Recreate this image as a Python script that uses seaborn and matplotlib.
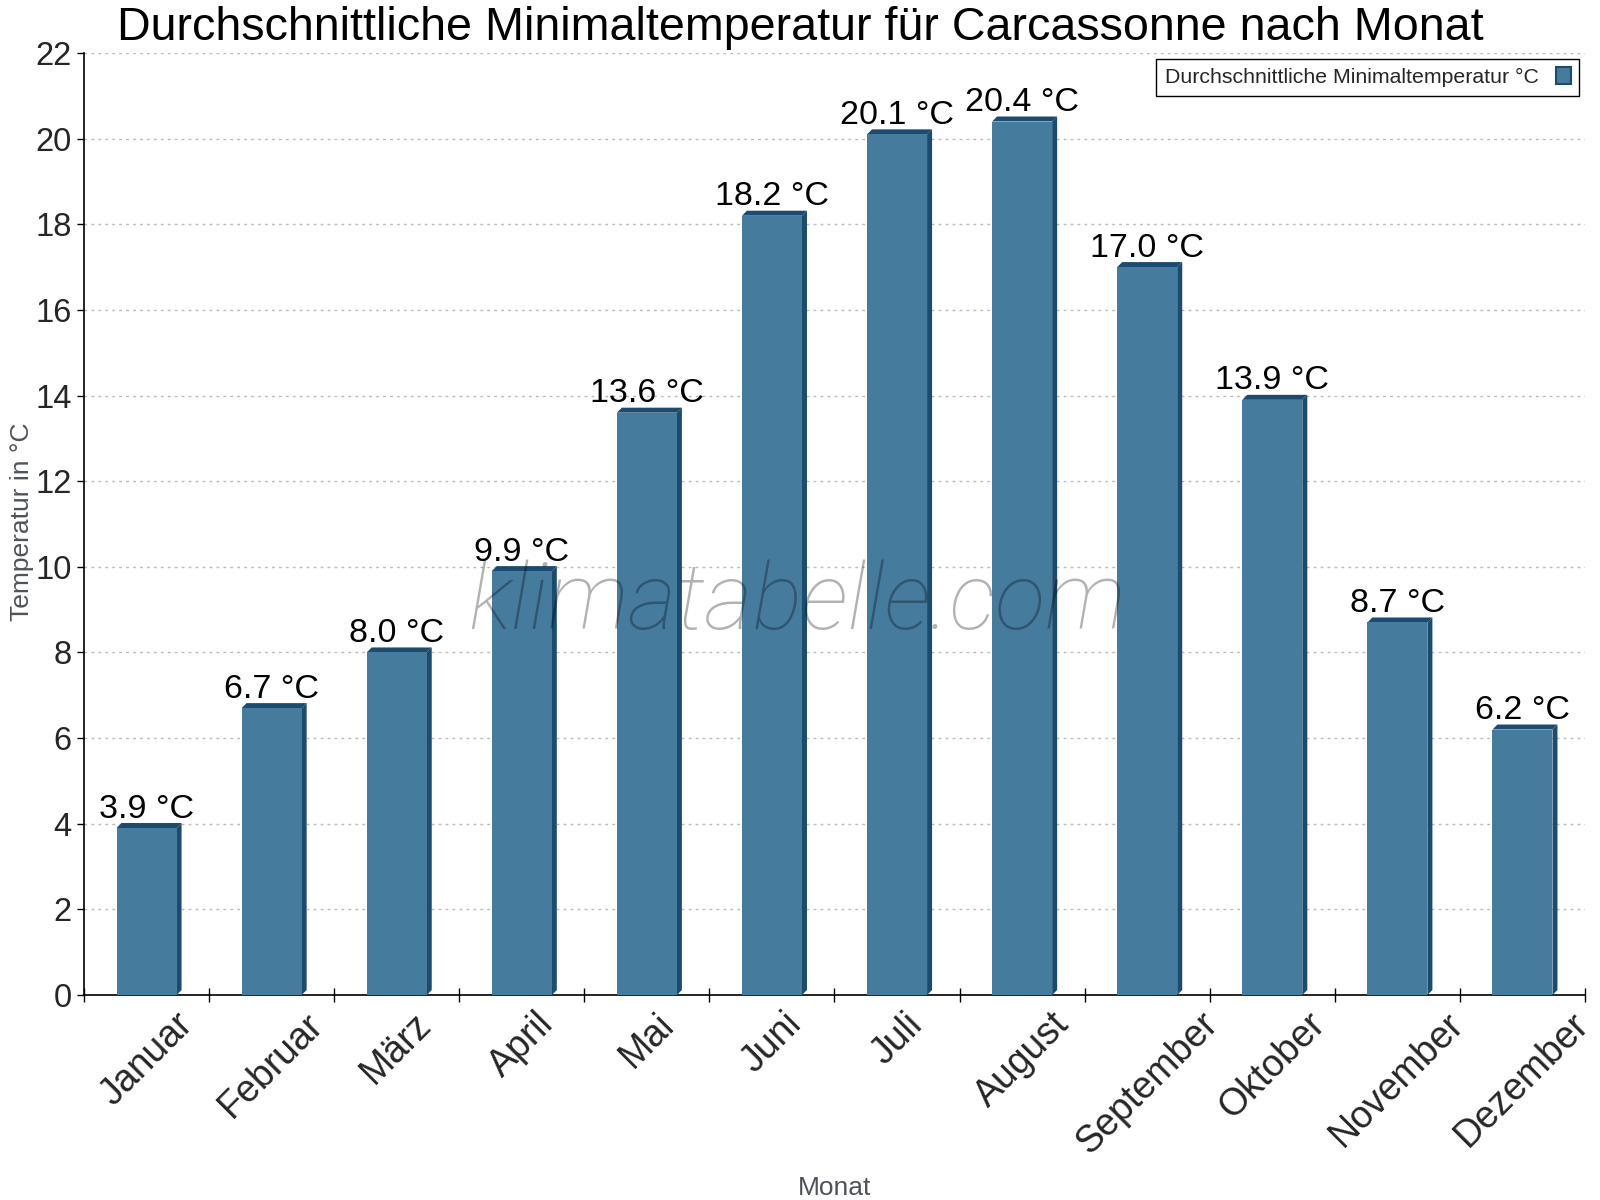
import numpy as np
import pandas as pd
import matplotlib
matplotlib.use("Agg")
import matplotlib.pyplot as plt
import seaborn as sns
from matplotlib.patches import Polygon
from matplotlib.ticker import FixedLocator, MultipleLocator

months = ["Januar", "Februar", "März", "April", "Mai", "Juni", "Juli",
          "August", "September", "Oktober", "November", "Dezember"]
temps = [3.9, 6.7, 8.0, 9.9, 13.6, 18.2, 20.1, 20.4, 17.0, 13.9, 8.7, 6.2]
series_label = "Durchschnittliche Minimaltemperatur °C"
title = "Durchschnittliche Minimaltemperatur für Carcassonne nach Monat"
ylabel = "Temperatur in °C"
xlabel = "Monat"
watermark = "klimatabelle.com"

FRONT = "#457b9d"
DARK = "#1b4b6e"

sns.set_style("white")
plt.rcParams["font.family"] = ["Liberation Sans", "DejaVu Sans"]

W, H = 1600, 1200
fig = plt.figure(figsize=(16, 12), dpi=100)
ax = fig.add_axes([84 / W, 1 - 995 / H, (1585 - 84) / W, (995 - 53) / H])

df = pd.DataFrame({"Monat": months, "Temp": temps})
sns.barplot(data=df, x="Monat", y="Temp", color=FRONT, saturation=1,
            width=0.48, ax=ax, label=series_label, zorder=3, edgecolor="none",
            linewidth=0)

ax.set_xlim(-0.5, len(months) - 0.5)
ax.set_ylim(0, 22)

# 3D effect: top and side faces
d = 5
bars = list(ax.containers[0])
for p in bars:
    x0, w, h = p.get_x(), p.get_width(), p.get_height()
    pts = np.array([[x0, h], [x0 + w, h], [x0 + w, 0]])
    disp = ax.transData.transform(pts) + np.array([d, d])
    back = ax.transData.inverted().transform(disp)
    top = Polygon([[x0, h], [x0 + w, h], back[1], back[0]], closed=True,
                  facecolor=DARK, edgecolor="none", zorder=2.9, clip_on=False)
    side = Polygon([[x0 + w, 0], [x0 + w, h], back[1], back[2]], closed=True,
                   facecolor=DARK, edgecolor="none", zorder=2.9, clip_on=False)
    ax.add_patch(top)
    ax.add_patch(side)

ax.bar_label(ax.containers[0], labels=[f"{v:.1f} °C" for v in temps],
             padding=2.5, fontsize=24.5, color="black", zorder=6)

# axes styling
for s in ["top", "right"]:
    ax.spines[s].set_visible(False)
for s in ["left", "bottom"]:
    ax.spines[s].set_color("black")
    ax.spines[s].set_linewidth(1.2)

ax.yaxis.set_major_locator(MultipleLocator(2))
ax.tick_params(axis="y", which="major", direction="out", length=5, width=1,
               labelsize=23.5, pad=4, color="black", left=True)
ax.tick_params(axis="x", which="major", length=0, labelsize=27, pad=8)
ax.xaxis.set_minor_locator(FixedLocator(np.arange(-0.5, len(months), 1.0)))
ax.tick_params(axis="x", which="minor", direction="inout", length=10,
               width=1, color="black", bottom=True)
plt.setp(ax.get_xticklabels(), rotation=45, ha="center", va="top")

ax.yaxis.grid(True, linestyle=(0, (2, 3)), color="#bbbbbb", linewidth=1,
              zorder=0)
ax.xaxis.grid(False)
ax.set_axisbelow(True)
ax.set_xlabel("")
ax.set_ylabel("")

fig.text(0.5, 1 - 40 / H, title, ha="center", va="baseline", fontsize=33.6,
         color="black")
fig.text(22 / W, 1 - 522 / H, ylabel, rotation=90, ha="center", va="center",
         fontsize=19, color="#4d5359")
fig.text(834.5 / W, 1 - 1195 / H, xlabel, ha="center", va="baseline",
         fontsize=19, color="#4d5359")

ax.text(0.475, 0.415, watermark, transform=ax.transAxes, ha="center",
        va="center", fontsize=67, family=["Roboto", "DejaVu Sans"],
        style="italic", weight="light", color="black", alpha=0.3, zorder=7)

leg = ax.legend(loc="upper right", bbox_to_anchor=(1579 / W, 1 - 59 / H),
                bbox_transform=fig.transFigure, borderaxespad=0,
                frameon=True, fancybox=False, shadow=False, fontsize=15.3,
                markerfirst=False, handlelength=0.7, handleheight=0.85,
                handletextpad=0.8, borderpad=0.4)
leg.get_frame().set_edgecolor("black")
leg.get_frame().set_linewidth(1)
leg.get_frame().set_alpha(1)
for hdl in leg.legend_handles:
    hdl.set_edgecolor(DARK)
    hdl.set_linewidth(1.5)

fig.savefig("out.png", dpi=100)
